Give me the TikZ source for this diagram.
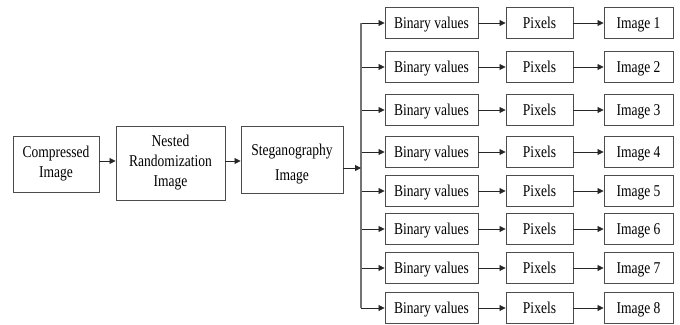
\documentclass[tikz,border=0pt]{standalone}
\usepackage{fontspec}
\setmainfont[FakeStretch=0.82]{Liberation Serif}
\usetikzlibrary{arrows.meta}
\begin{document}
\begin{tikzpicture}[x=1pt,y=-1pt,
  box/.style={draw=black!70,line width=0.9pt,align=center,inner sep=1pt,
    font=\fontsize{16.5}{20}\selectfont},
  rowbox/.style={box,minimum height=31pt,text height=12pt,text depth=2pt},
  arr/.style={line width=0.8pt,draw=black!85,-{Triangle[length=6pt,width=6pt]}},
  busline/.style={line width=1.3pt,draw=black!55}]
\useasboundingbox (0,0) rectangle (680,324);
\node[box,minimum width=86pt,minimum height=56pt] (comp) at (56,164) {Compressed\\Image};
\node[box,minimum width=109pt,minimum height=74pt] (nest) at (170.5,163) {Nested\\Randomization\\Image};
\node[box,minimum width=102pt,minimum height=67pt,
  label={[align=center,font=\fontsize{16.5}{25}\selectfont,yshift=-5pt]center:Steganography\\Image}] (steg) at (292,159.5) {};
\coordinate (bus) at (361,0);
\coordinate (sj) at (361,168);
\draw[arr] (comp.east |- 0,161) -- (nest.west |- 0,161);
\draw[arr] (nest.east |- 0,161) -- (steg.west |- 0,161);
\foreach \i/\y in {1/23,2/67,3/110,4/152,5/191,6/229,7/268,8/308}{
  \node[rowbox,minimum width=93pt] (b\i) at (431.5,\y) {Binary values};
  \node[rowbox,minimum width=67pt] (p\i) at (539.5,\y) {Pixels};
  \node[rowbox,minimum width=69pt] (m\i) at (638.5,\y) {Image \i};
  \draw[arr] (b\i.east) -- (p\i.west);
  \draw[arr] (p\i.east) -- (m\i.west);
  \draw[arr] (bus |- b\i) -- (b\i.west);
}
\draw[busline] (bus |- b1) -- (bus |- b8);
\draw[arr] (steg.east |- sj) -- (sj);
\end{tikzpicture}
\end{document}
